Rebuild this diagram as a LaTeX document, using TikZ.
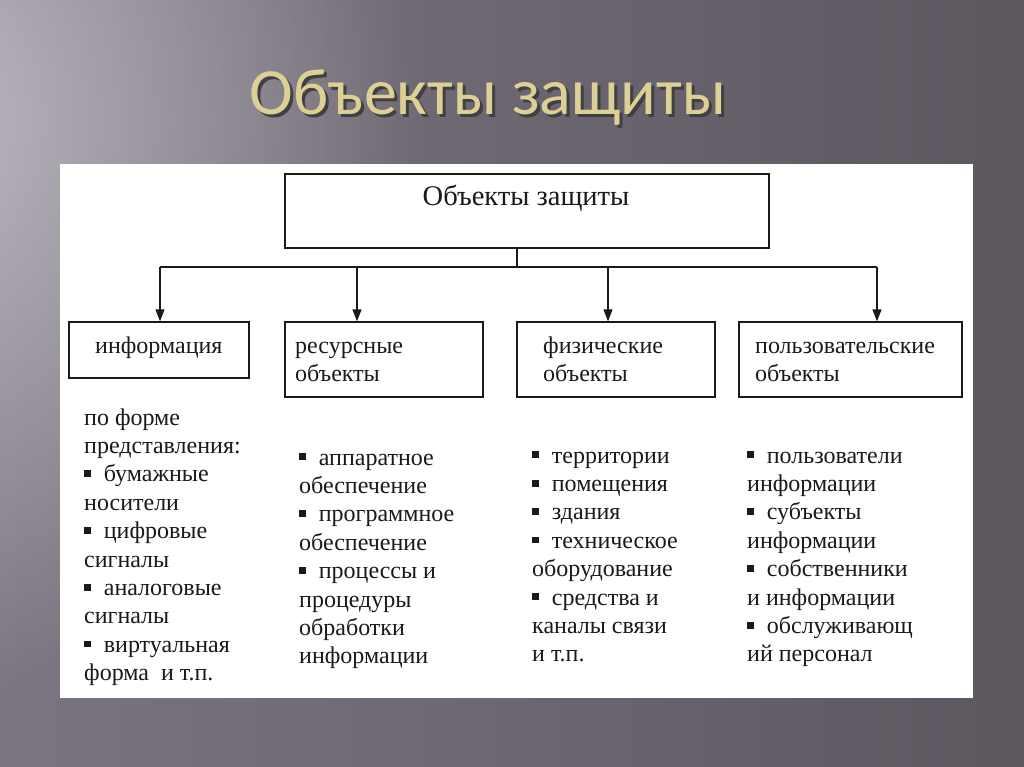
\documentclass[tikz,border=0pt]{standalone}
\usepackage{fontspec}
\setmainfont{Liberation Serif}
\newfontfamily\titlefont{Carlito}
\usetikzlibrary{arrows.meta,fadings}
\definecolor{bgleft}{HTML}{7A7580}
\definecolor{bgright}{HTML}{5C575F}
\definecolor{bglight}{HTML}{BEBAC2}
\definecolor{titlecol}{HTML}{DDD096}
\definecolor{inkcol}{HTML}{1A1A1A}
\tikzfading[name=softglow, inner color=transparent!0, outer color=transparent!100]
\newcommand{\bul}{\rule[0.2em]{0.27em}{0.28em}\hspace{0.55em}}
\newcommand{\coltext}[1]{\parbox[t]{8cm}{\fontsize{24}{28.4}\selectfont\raggedright #1}}
\newcommand{\shadowed}[1]{\rlap{\hspace{3pt}\raisebox{-3pt}{\textcolor{black!75}{#1}}}#1}
\tikzset{
  boxnode/.style={draw=inkcol, line width=1.3pt, fill=white, inner sep=0pt},
  lbl/.style={anchor=base west, inner sep=0pt, text=inkcol, font=\fontsize{24}{28.4}\selectfont},
  coltxt/.style={anchor=base west, inner sep=0pt, text=inkcol},
  conn/.style={draw=inkcol, line width=1.3pt},
  arr/.style={conn, -{Triangle[length=12pt,width=9pt]}},
}
\begin{document}
\begin{tikzpicture}[x=1pt,y=-1pt]
\useasboundingbox (0,0) rectangle (1024,767);
% background
\shade[left color=bgleft, right color=bgright] (0,0) rectangle (1024,767);
\fill[bglight, path fading=softglow, fit fading=true] (-600,-460) rectangle (420,700);
% title
\node[text=titlecol, font=\titlefont\fontsize{66}{72}\selectfont, anchor=base] (title) at (488,115) {\shadowed{Объекты защиты}};
% white panel
\fill[white] (60,164) rectangle (973,698);
% boxes
\node[boxnode, minimum width=484pt, minimum height=74pt] (top) at (527,211) {};
\node[boxnode, minimum width=180pt, minimum height=56pt] (info) at (159,350) {};
\node[boxnode, minimum width=198pt, minimum height=75pt] (res) at (384,359.5) {};
\node[boxnode, minimum width=198pt, minimum height=75pt] (phys) at (616,359.5) {};
\node[boxnode, minimum width=223pt, minimum height=75pt] (user) at (850.5,359.5) {};
% box labels
\node[lbl, anchor=base, font=\fontsize{28.5}{32}\selectfont] (ttop) at (526,206) {Объекты защиты};
\node[lbl] (tinfo) at (95,353) {информация};
\node[coltxt] (tres) at (295,353) {\coltext{ресурсные\\объекты}};
\node[coltxt] (tphys) at (543,353) {\coltext{физические\\объекты}};
\node[coltxt] (tuser) at (755,353) {\coltext{пользовательские\\объекты}};
% connectors
\coordinate (bus) at (517,267);
\coordinate (a1) at (160,267);
\coordinate (a2) at (357,267);
\coordinate (a3) at (608,267);
\coordinate (a4) at (877,267);
\draw[conn] (bus |- top.south) -- (bus);
\draw[conn] (a1) -- (a4);
\draw[arr] (a1) -- (a1 |- info.north);
\draw[arr] (a2) -- (a2 |- res.north);
\draw[arr] (a3) -- (a3 |- phys.north);
\draw[arr] (a4) -- (a4 |- user.north);
% columns
\node[coltxt] (c1) at (84,425) {\coltext{по форме\\представления:\\\bul бумажные\\носители\\\bul цифровые\\сигналы\\\bul аналоговые\\сигналы\\\bul виртуальная\\форма\ \ и т.п.}};
\node[coltxt] (c2) at (299,465) {\coltext{\bul аппаратное\\обеспечение\\\bul программное\\обеспечение\\\bul процессы и\\процедуры\\обработки\\информации}};
\node[coltxt] (c3) at (532,463) {\coltext{\bul территории\\\bul помещения\\\bul здания\\\bul техническое\\оборудование\\\bul средства и\\каналы связи\\и т.п.}};
\node[coltxt] (c4) at (747,463) {\coltext{\bul пользователи\\информации\\\bul субъекты\\информации\\\bul собственники\\и информации\\\bul обслуживающ\\ий персонал}};
\end{tikzpicture}
\end{document}
